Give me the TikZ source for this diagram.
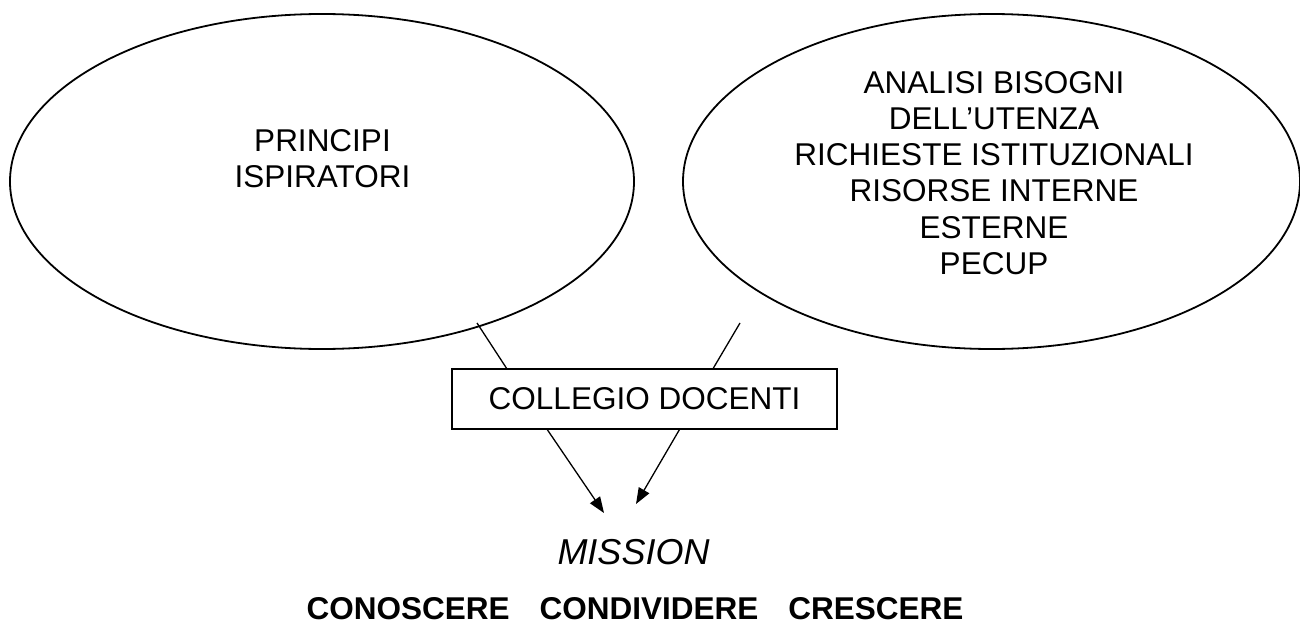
\documentclass[tikz,border=0pt]{standalone}
\usepackage{fontspec}
\setmainfont{Liberation Sans}
\usetikzlibrary{shapes.geometric,arrows.meta,calc}
\begin{document}
\begin{tikzpicture}[x=1pt,y=-1pt,
  oval/.style={ellipse, draw, line width=1.8pt, inner sep=0pt, minimum height=335pt},
  lbl/.style={font=\fontsize{31.5}{36.3}\selectfont, align=center, inner sep=0pt},
  boxnode/.style={draw, rectangle, line width=1.7pt, minimum width=385pt, minimum height=60pt, inner sep=0pt, font=\fontsize{31.5}{36.3}\selectfont},
  conn/.style={line width=1.3pt},
  arr/.style={conn, -{Triangle[length=16pt,width=12pt]}}]
\useasboundingbox (0,0) rectangle (1300,626);
% ellipses
\node[oval, minimum width=624pt] (left) at (322,181.5) {};
\node[oval, minimum width=617pt] (right) at (991.5,181.5) {};
\node[lbl] (lefttext) at (322.5,158.5) {PRINCIPI\\ISPIRATORI};
\node[lbl] (righttext) at (994,173) {ANALISI BISOGNI\\DELL’UTENZA\\RICHIESTE ISTITUZIONALI\\RISORSE INTERNE\\ESTERNE\\PECUP};
% box
\node[boxnode] (box) at (644.5,399) {COLLEGIO DOCENTI};
% connectors from ellipses
\coordinate (s1) at (477,323);
\coordinate (s2) at (740,323);
\draw[conn] (s1) -- ($(box.north west)!0.143!(box.north east)$);
\draw[conn] (s2) -- ($(box.north west)!0.678!(box.north east)$);
% arrows to mission
\coordinate (t1) at (604,513);
\coordinate (t2) at (636,504);
\draw[arr] ($(box.south west)!0.249!(box.south east)$) -- (t1);
\draw[arr] ($(box.south west)!0.590!(box.south east)$) -- (t2);
% mission
\node[inner sep=0pt, font=\fontsize{36}{40}\selectfont\itshape] (mission) at (633.5,552) {MISSION};
\node[inner sep=0pt, font=\fontsize{31.5}{36}\selectfont\bfseries] (motto) at (635,609) {CONOSCERE\hspace{30pt}CONDIVIDERE\hspace{30pt}CRESCERE};
\end{tikzpicture}
\end{document}
